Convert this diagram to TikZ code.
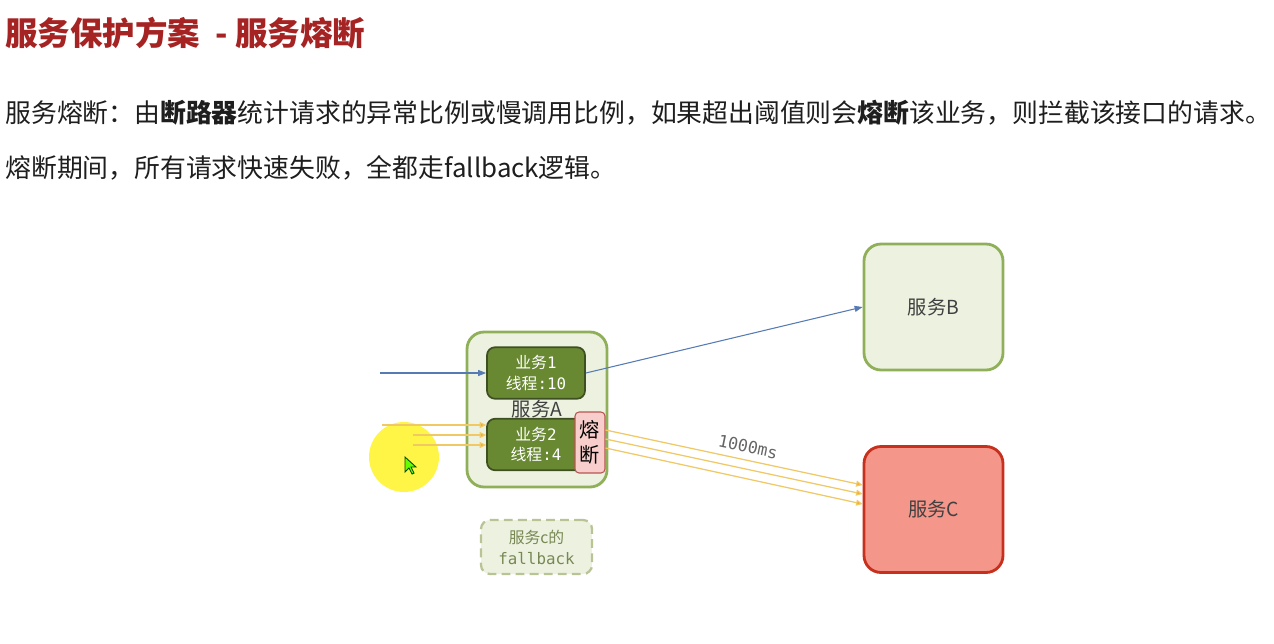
\documentclass[tikz,border=0pt]{standalone}
\usepackage{fontspec}
\setmainfont{Noto Sans CJK SC}
\newfontfamily\monofnt{DejaVu Sans Mono}
\usepackage{tikz}
\usetikzlibrary{arrows.meta,positioning,calc}
\definecolor{titlered}{RGB}{165,35,35}
\definecolor{bodytext}{RGB}{30,30,30}
\definecolor{svcfill}{RGB}{237,242,224}
\definecolor{svcline}{RGB}{143,176,88}
\definecolor{bizfill}{RGB}{104,136,50}
\definecolor{bizline}{RGB}{62,80,34}
\definecolor{fusefill}{RGB}{248,206,204}
\definecolor{fuseline}{RGB}{184,84,80}
\definecolor{failfill}{RGB}{245,150,138}
\definecolor{failline}{RGB}{200,48,30}
\definecolor{fbline}{RGB}{184,196,150}
\definecolor{fbtext}{RGB}{120,136,84}
\definecolor{reqblue}{RGB}{86,122,180}
\definecolor{reqgold}{RGB}{240,200,100}
\definecolor{tipgold}{RGB}{245,166,35}

\begin{document}
\begin{tikzpicture}[
  x=0.02cm, y=-0.02cm,
  every node/.style={inner sep=0pt},
  svcbox/.style={draw=svcline, fill=svcfill, line width=1.6pt,
                 rounded corners=0.34cm, minimum width=2.78cm,
                 minimum height=2.52cm, text=black!75,
                 font=\fontsize{11}{12}\selectfont},
  bizbox/.style={draw=bizline, fill=bizfill, line width=1pt,
                 rounded corners=0.16cm, minimum width=1.96cm,
                 minimum height=1.03cm, align=center, text=white,
                 font=\fontsize{9}{11.5}\selectfont},
  fusebox/.style={draw=fuseline, fill=fusefill, line width=0.6pt,
                  rounded corners=0.08cm, minimum width=0.6cm,
                  minimum height=1.22cm, align=center,
                  font=\fontsize{11.5}{14}\selectfont},
  fbbox/.style={draw=fbline, fill=svcfill, line width=1.3pt,
                dash pattern=on 5pt off 3pt, rounded corners=0.18cm,
                minimum width=2.22cm, minimum height=1.08cm,
                align=center, text=fbtext,
                font=\fontsize{9}{12}\selectfont},
  bluearrow/.style={-{Triangle[length=0.16cm, width=0.12cm]},
                    reqblue, line width=0.6pt},
  goldarrow/.style={-{Triangle[length=0.13cm, width=0.12cm, fill=tipgold]},
                    draw=reqgold, line width=0.7pt},
]

\useasboundingbox[fill=white] (0,0) rectangle (1274,643);

%% Heading and text
\node[anchor=west, text=titlered, font=\fontsize{18.5}{22}\selectfont\bfseries]
  (title) at (5,33) {服务保护方案 \ - 服务熔断};
\node[anchor=west, text=bodytext, font=\fontsize{14.7}{18}\selectfont]
  (line1) at (5,113)
  {服务熔断：由{\bfseries 断路器}统计请求的异常比例或慢调用比例，如果超出阈值则会{\bfseries 熔断}该业务，则拦截该接口的请求。};
\node[anchor=west, text=bodytext, font=\fontsize{14.7}{18}\selectfont]
  (line2) at (5,168) {熔断期间，所有请求快速失败，全都走fallback逻辑。};

%% Services
\node[svcbox, minimum width=2.8cm, minimum height=3.1cm] (svcA) at (537,409.5) {服务A};
\node[svcbox] (svcB) at (933.5,307) {服务B};
\node[svcbox, draw=failline, fill=failfill] (svcC) at (933.5,509.5) {服务C};

%% Business threads inside A
\node[bizbox] (biz1) at (536,373) {业务{\monofnt 1}\\线程{\monofnt :10}};
\node[bizbox] (biz2) at (536,444.5) {业务{\monofnt 2}\\线程{\monofnt :4}};
\node[fusebox] (fuse) at (590,442.5) {熔\\断};

%% Fallback
\node[fbbox] (fb) at (536.5,547) {服务c的\\{\monofnt fallback}};

%% Cursor highlight
\fill[yellow!90!white, opacity=0.8] (404,457) circle (0.7cm);
\draw[fill=green!60!yellow, draw=green!30!black, line width=0.5pt]
  (405,457) -- (405,472) -- (409,468) -- (412,474) -- (414,473)
  -- (411,467) -- (416,467) -- cycle;

%% Requests
\coordinate (inB) at (380,373);
\draw[bluearrow] (inB) -- (biz1.west);
\draw[bluearrow] (biz1.east) -- (svcB.west);

\coordinate (inC1) at (382,425);
\coordinate (inC2) at (413,435);
\coordinate (inC3) at (413,445);
\foreach \i in {1,2,3}
  \draw[goldarrow] (inC\i) -- (inC\i -| biz2.west);

\foreach \a/\b in {-12.5/-24.5, -3.5/-15.5, 5.5/-5.5}
  \draw[goldarrow] ($(fuse.east)+(0,\a)$) -- ($(svcC.west)+(0,\b)$);

\node[rotate=-11.6, text=black!60, font=\monofnt\fontsize{9.5}{11}\selectfont]
  (delay) at (748,447) {1000ms};

\end{tikzpicture}
\end{document}
